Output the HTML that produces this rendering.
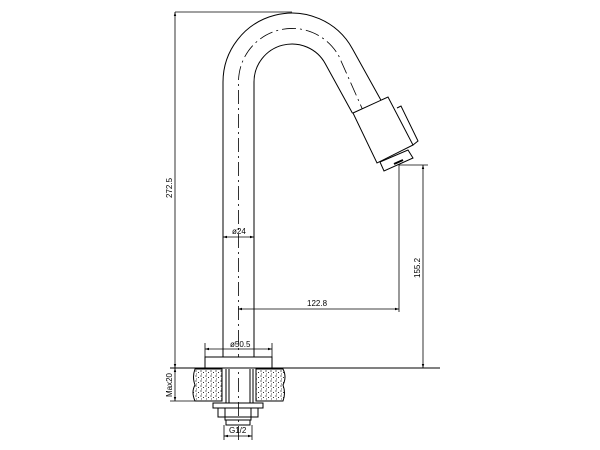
<!DOCTYPE html>
<html><head><style>
html,body{margin:0;padding:0;background:#fff;}
svg{display:block}
text{font-family:"Liberation Sans",sans-serif;font-size:8px;fill:#000;}
</style></head><body>
<svg width="600" height="450" viewBox="0 0 600 450" xmlns="http://www.w3.org/2000/svg">
<defs>
<pattern id="gr" width="5" height="5" patternUnits="userSpaceOnUse">
<rect width="5" height="5" fill="#fff"/>
<circle cx="1" cy="1" r="0.6" fill="#000"/><circle cx="3.5" cy="2.5" r="0.55" fill="#000"/><circle cx="1.5" cy="4" r="0.45" fill="#000"/>
</pattern>
<marker id="a" viewBox="0 0 10 10" refX="10" refY="5" markerWidth="5" markerHeight="5" orient="auto-start-reverse"><path d="M0,2 L10,5 L0,8z" fill="#000"/></marker>
</defs>
<g stroke="#000" stroke-width="1" fill="none">
<path d="M223,357 L223,82 A69,69 0 0 1 352.4,48.7 L381,100.3"/>
<path d="M254,357 L254,82 A38,38 0 0 1 325.3,63.7 L352.5,113.2"/>
<path d="M238.5,440 L238.5,82 A53.5,53.5 0 0 1 338.9,56.2 L385,160" stroke-dasharray="14,4,2,4" stroke-width="0.8"/>
<path d="M353,113 L388,97 L413,145 L377,163 Z" fill="#fff"/>
<path d="M397,108 L401,106 L418,141 L413,145"/>
<path d="M380,162 L408,150 L413,158 L384,171 Z" fill="#fff"/>
<path d="M394,164 L403,160" stroke-width="2"/>
<line x1="175" y1="12" x2="292" y2="12" stroke-width="0.8"/>
<line x1="175" y1="12" x2="175" y2="368" stroke-width="0.8" marker-start="url(#a)" marker-end="url(#a)"/>
<line x1="399" y1="164" x2="399" y2="312" stroke-width="0.8"/>
<line x1="399" y1="165" x2="428" y2="165" stroke-width="0.8"/>
<line x1="423" y1="165" x2="423" y2="368" stroke-width="0.8" marker-start="url(#a)" marker-end="url(#a)"/>
<line x1="238" y1="309" x2="399" y2="309" stroke-width="0.8" marker-start="url(#a)" marker-end="url(#a)"/>
<line x1="223" y1="237" x2="254" y2="237" stroke-width="0.8" marker-start="url(#a)" marker-end="url(#a)"/>
<line x1="205" y1="349" x2="272" y2="349" stroke-width="0.8" marker-start="url(#a)" marker-end="url(#a)"/>
<line x1="205" y1="343" x2="205" y2="357" stroke-width="0.8"/>
<line x1="272" y1="343" x2="272" y2="357" stroke-width="0.8"/>
<rect x="205" y="357" width="67" height="11" fill="#fff"/>
<line x1="170" y1="368" x2="440" y2="368"/>
<path d="M195,369 L222,369 L222,401 L195,401 Q191,392 195,385 Q192,377 195,369Z" fill="url(#gr)"/>
<path d="M256,369 L283,369 Q287,377 283,385 Q286,393 283,401 L256,401Z" fill="url(#gr)"/>
<line x1="170" y1="401" x2="200" y2="401" stroke-width="0.8"/>
<line x1="175" y1="368" x2="175" y2="401" stroke-width="0.8" marker-start="url(#a)" marker-end="url(#a)"/>
<line x1="226" y1="369" x2="226" y2="403"/><line x1="229" y1="369" x2="229" y2="403"/>
<line x1="250" y1="369" x2="250" y2="403"/><line x1="253" y1="369" x2="253" y2="403"/>
<rect x="213" y="403" width="50" height="5"/>
<rect x="218" y="408" width="40" height="9"/>
<rect x="225" y="408" width="26" height="12"/>
<rect x="226" y="420" width="24" height="5"/>
<line x1="224" y1="425" x2="224" y2="440" stroke-width="0.8"/>
<line x1="252" y1="425" x2="252" y2="440" stroke-width="0.8"/>
<line x1="224" y1="436" x2="252" y2="436" stroke-width="0.8" marker-start="url(#a)" marker-end="url(#a)"/>
</g>
<text x="232" y="234" font-size="7">ø24</text>
<text x="307" y="306">122.8</text>
<text x="230" y="347" font-size="7">ø50.5</text>
<text x="229" y="433" font-size="7">G1/2</text>
<text transform="translate(172,198) rotate(-90)">272.5</text>
<text transform="translate(420,278) rotate(-90)">155.2</text>
<text transform="translate(172,397) rotate(-90)" font-size="7">Max20</text>
</svg>
</body></html>
